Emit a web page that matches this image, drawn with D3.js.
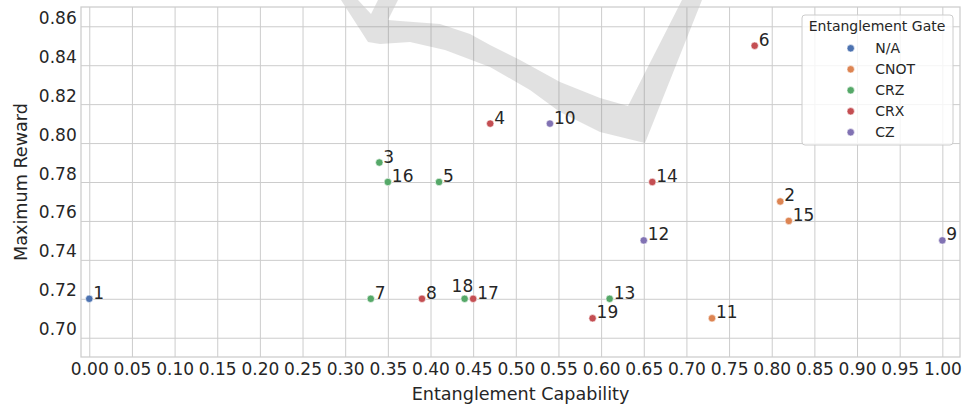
<!DOCTYPE html>
<html>
<head>
<meta charset="utf-8">
<script src="https://cdn.jsdelivr.net/npm/d3@7"></script>
<style>
  body { margin: 0; background: #fff; }
  text { font-family: "DejaVu Sans", sans-serif; fill: #262626; }
</style>
</head>
<body>
<div id="chart"></div>
<script>
// circuit ids, entanglement capability, max reward, gate
const ids = [1, 2, 3, 4, 5, 6, 7, 8, 9, 10, 11, 12, 13, 14, 15, 16, 17, 18, 19];
const capability = [0.00, 0.81, 0.34, 0.47, 0.41, 0.78, 0.33, 0.39, 1.00, 0.54, 0.73, 0.65, 0.61, 0.66, 0.82, 0.35, 0.45, 0.44, 0.59];
const reward = [0.72, 0.77, 0.79, 0.81, 0.78, 0.85, 0.72, 0.72, 0.75, 0.81, 0.71, 0.75, 0.72, 0.78, 0.76, 0.78, 0.72, 0.72, 0.71];
const gates = ["N/A", "CNOT", "CRZ", "CRX", "CRZ", "CRX", "CRZ", "CRX", "CZ", "CZ", "CNOT", "CZ", "CRZ", "CRX", "CNOT", "CRZ", "CRX", "CRZ", "CRX"];

const gateOrder = ["N/A", "CNOT", "CRZ", "CRX", "CZ"];
const gateColors = ["#4c72b0", "#dd8452", "#55a868", "#c44e52", "#8172b3"];

const xTicks = [0.00, 0.05, 0.10, 0.15, 0.20, 0.25, 0.30, 0.35, 0.40, 0.45, 0.50,
  0.55, 0.60, 0.65, 0.70, 0.75, 0.80, 0.85, 0.90, 0.95, 1.00];
const yTicks = [0.70, 0.72, 0.74, 0.76, 0.78, 0.80, 0.82, 0.84, 0.86];

const points = ids.map((id, i) => ({
  id, x: capability[i], y: reward[i], gate: gates[i]
}));

const width = 963, height = 405;
const mLeft = 81, mRight = 960, mTop = 7, mBottom = 357;

const x = d3.scaleLinear().domain([-0.0097, 1.0207]).range([mLeft, mRight]);
const y = d3.scaleLinear().domain([0.6901, 0.8699]).range([mBottom, mTop]);
const color = d3.scaleOrdinal().domain(gateOrder).range(gateColors);

const svg = d3.select("#chart").append("svg")
  .attr("width", width).attr("height", height);

svg.append("rect").attr("width", width).attr("height", height).attr("fill", "#fff");

// grid + ticks
const xAxis = svg.append("g")
  .attr("transform", `translate(0,${mBottom})`)
  .call(d3.axisBottom(x).tickValues(xTicks).tickFormat(d3.format(".2f"))
    .tickSizeInner(-(mBottom - mTop)).tickSizeOuter(0).tickPadding(6));
const yAxis = svg.append("g")
  .attr("transform", `translate(${mLeft},0)`)
  .call(d3.axisLeft(y).tickValues(yTicks).tickFormat(d3.format(".2f"))
    .tickSizeInner(-(mRight - mLeft)).tickSizeOuter(0).tickPadding(4.3));

[xAxis, yAxis].forEach(g => {
  g.select(".domain").remove();
  g.selectAll(".tick line").attr("stroke", "#cccccc").attr("stroke-width", 1);
  g.selectAll(".tick text").attr("font-size", 17).attr("fill", "#262626")
    .attr("font-family", "DejaVu Sans, sans-serif");
});
yAxis.selectAll(".tick text").attr("dy", -3);

// faint background swoosh (watermark-like mark in the original)
const swoosh = [
  [341, 0], [368, 42], [380, 44], [410, 42], [445, 50], [490, 67], [530, 90],
  [560, 112], [600, 132], [645, 143], [702, 0], [682, 0], [628, 106], [600, 98],
  [560, 82], [520, 60], [490, 45], [470, 34], [440, 24], [400, 21], [388, 20],
  [398, 0], [378, 0], [371, 14], [358, 0]
];
svg.append("path")
  .attr("d", d3.line()(swoosh) + "Z")
  .attr("fill", "#808080")
  .attr("fill-opacity", 0.24);

// spines
svg.append("rect")
  .attr("x", mLeft).attr("y", mTop)
  .attr("width", mRight - mLeft).attr("height", mBottom - mTop)
  .attr("fill", "none").attr("stroke", "#cccccc").attr("stroke-width", 1.25);

// points
svg.append("g")
  .selectAll("circle")
  .data(points)
  .join("circle")
  .attr("cx", d => x(d.x))
  .attr("cy", d => y(d.y))
  .attr("r", 3.7)
  .attr("fill", d => color(d.gate))
  .attr("stroke", "#fff")
  .attr("stroke-width", 0.6);

// labels, 18 sits over its neighbour 17 so it is nudged up-left
const nudge = { 18: [-13, -7] };
svg.append("g")
  .selectAll("text")
  .data(points)
  .join("text")
  .attr("x", d => x(d.x) + (nudge[d.id] ? nudge[d.id][0] : 4))
  .attr("y", d => y(d.y) + (nudge[d.id] ? nudge[d.id][1] : 0))
  .attr("font-size", 17)
  .text(d => d.id);

// axis titles
svg.append("text")
  .attr("x", (mLeft + mRight) / 2).attr("y", 400)
  .attr("text-anchor", "middle").attr("font-size", 17.6)
  .text("Entanglement Capability");
svg.append("text")
  .attr("transform", `translate(26.7,${(mTop + mBottom) / 2}) rotate(-90)`)
  .attr("text-anchor", "middle").attr("font-size", 17.6)
  .text("Maximum Reward");

// legend
const lg = svg.append("g");
lg.append("rect")
  .attr("x", 802).attr("y", 15).attr("width", 151).attr("height", 130)
  .attr("rx", 3).attr("fill", "#fff").attr("fill-opacity", 0.8)
  .attr("stroke", "#cccccc").attr("stroke-width", 1);
lg.append("text")
  .attr("x", 877).attr("y", 31)
  .attr("text-anchor", "middle").attr("font-size", 14)
  .text("Entanglement Gate");
const items = lg.selectAll("g.item")
  .data(gateOrder)
  .join("g")
  .attr("class", "item")
  .attr("transform", (d, i) => `translate(0,${48.3 + i * 21})`);
items.append("circle")
  .attr("cx", 850.7).attr("cy", 0).attr("r", 3.7)
  .attr("fill", d => color(d)).attr("stroke", "#fff").attr("stroke-width", 0.6);
items.append("text")
  .attr("x", 875.3).attr("y", 5)
  .attr("font-size", 14)
  .text(d => d);
</script>
</body>
</html>
